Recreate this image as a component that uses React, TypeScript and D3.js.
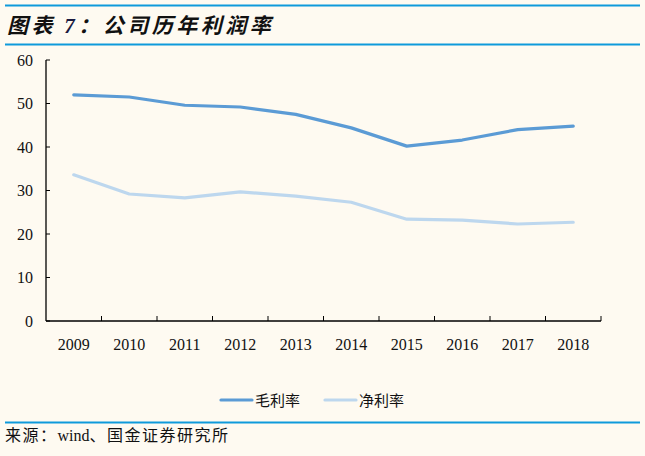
import React from "react";
import * as d3 from "d3";

const years = ["2009", "2010", "2011", "2012", "2013", "2014", "2015", "2016", "2017", "2018"];
const grossMargin = [52.0, 51.5, 49.6, 49.2, 47.5, 44.4, 40.2, 41.6, 44.0, 44.8];
const netMargin = [33.6, 29.2, 28.3, 29.7, 28.7, 27.3, 23.4, 23.2, 22.3, 22.7];
const yTicks = [0, 10, 20, 30, 40, 50, 60];
const seriesNames = ["毛利率", "净利率"];
const colors = ["#5B9BD5", "#BDD7EE"];

const W = 645;
const H = 456;
const left = 46;
const right = 601;
const top = 60;
const bottom = 321;

export default function App() {
  const x = d3.scaleBand<string>().domain(years).range([left, right]);
  const y = d3.scaleLinear().domain([0, 60]).range([bottom, top]);
  const line = d3
    .line<number>()
    .x((_, i) => (x(years[i]) as number) + x.bandwidth() / 2)
    .y((d) => y(d));
  const serif = "'Liberation Serif', 'Times New Roman', serif";
  const cjk = "'Noto Sans CJK SC', sans-serif";
  const bandTicks = years.slice(0, -1).map((yr) => (x(yr) as number) + x.bandwidth());
  bandTicks.push(right);

  return (
    <svg
      width={W}
      height={H}
      style={{ position: "absolute", left: 0, top: 0, background: "#FEFAF1" }}
    >
      <rect x={0} y={0} width={W} height={H} fill="#FEFAF1" />
      <line x1={5} x2={640} y1={5.5} y2={5.5} stroke="#0E9ADB" strokeWidth={2} />
      <text
        x={7}
        y={33}
        fontFamily={cjk}
        fontSize={21}
        fontWeight="bold"
        fontStyle="italic"
        letterSpacing={3.5}
        fill="#111"
      >
        图表 <tspan fontFamily={serif} fill="#1a1a40">7</tspan>：公司历年利润率
      </text>
      <line x1={5} x2={640} y1={44.5} y2={44.5} stroke="#0E9ADB" strokeWidth={2} />

      {/* y axis */}
      <line x1={left} x2={left} y1={top} y2={bottom} stroke="#000" strokeWidth={1.3} />
      {yTicks.map((t) => (
        <g key={t}>
          <line x1={left} x2={left + 4} y1={y(t)} y2={y(t)} stroke="#000" strokeWidth={1} />
          <text
            x={left - 13}
            y={y(t) + 5.5}
            textAnchor="end"
            fontFamily={serif}
            fontSize={16}
            fill="#111"
          >
            {t}
          </text>
        </g>
      ))}

      {/* x axis */}
      <line x1={left} x2={right} y1={bottom} y2={bottom} stroke="#000" strokeWidth={1.3} />
      {bandTicks.map((tx, i) => (
        <line key={i} x1={tx} x2={tx} y1={bottom} y2={bottom - 5} stroke="#000" strokeWidth={1} />
      ))}
      {years.map((yr) => (
        <text
          key={yr}
          x={(x(yr) as number) + x.bandwidth() / 2}
          y={350}
          textAnchor="middle"
          fontFamily={serif}
          fontSize={16}
          fill="#111"
        >
          {yr}
        </text>
      ))}

      {/* series */}
      <path d={line(netMargin) || ""} fill="none" stroke={colors[1]} strokeWidth={3.2} strokeLinecap="round" strokeLinejoin="round" />
      <path d={line(grossMargin) || ""} fill="none" stroke={colors[0]} strokeWidth={3.2} strokeLinecap="round" strokeLinejoin="round" />

      {/* legend */}
      {seriesNames.map((name, i) => {
        const lx = 221 + i * 104;
        return (
          <g key={name}>
            <line x1={lx} x2={lx + 31} y1={400} y2={400} stroke={colors[i]} strokeWidth={3.2} strokeLinecap="round" />
            <text x={lx + 34} y={406} fontFamily={cjk} fontSize={15} fill="#111">
              {name}
            </text>
          </g>
        );
      })}

      <line x1={5} x2={640} y1={422.5} y2={422.5} stroke="#0E9ADB" strokeWidth={2} />
      <text x={5} y={441} fontFamily={serif} fontSize={16} fill="#111">
        <tspan fontFamily={cjk} letterSpacing={1.5}>来源：</tspan>
        wind<tspan fontFamily={cjk} letterSpacing={1.5}>、国金证券研究所</tspan>
      </text>
    </svg>
  );
}
